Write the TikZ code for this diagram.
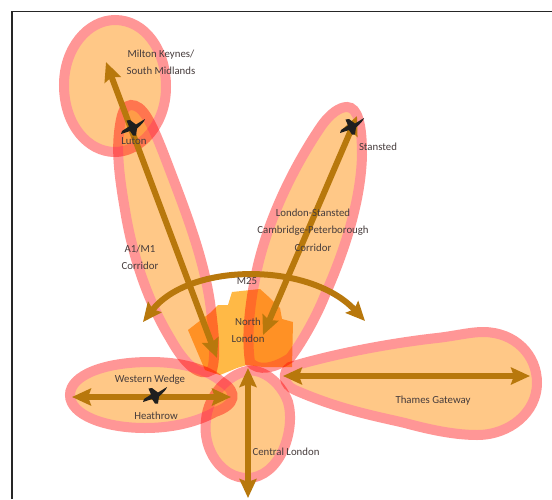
\documentclass[tikz,border=0pt]{standalone}
\usepackage{fontspec}
\setmainfont{Carlito}
\usetikzlibrary{arrows.meta}
\definecolor{lobefill}{RGB}{255,200,135}
\definecolor{lobering}{RGB}{255,150,150}
\definecolor{core}{RGB}{255,185,70}
\definecolor{roadc}{RGB}{184,120,12}
\definecolor{labelc}{RGB}{70,60,60}
\newcommand{\lobepath}[1]{%
\begin{scope}[blend mode=multiply]
\begin{scope}[transparency group]
\begin{scope}[blend mode=normal]
\path[lobe] #1;
\end{scope}
\end{scope}
\end{scope}}
\tikzset{
  x=1pt,y=-1pt,
  lobe/.style={fill=lobefill,draw=lobering,line width=10pt},
  road/.style={draw=roadc,line width=6pt,{Stealth[length=19pt,width=17pt,inset=3pt]}-{Stealth[length=19pt,width=17pt,inset=3pt]}},
  lab/.style={text=labelc,font=\fontsize{10.8pt}{17.3pt}\selectfont,align=center,inner sep=0pt},
  plane/.pic={\fill[black!88] (12,-8) -- (3,-2.5) -- (-3,-7) -- (-6.5,-6.5) -- (-4,-0.5) -- (-11,4) -- (-12,7) -- (-3,4) -- (0,8.5) -- (3,8.5) -- (4,1.5) .. controls (8,-2) and (11,-5) .. (12,-8) -- cycle;}
}
\begin{document}
\begin{tikzpicture}
\useasboundingbox (0,0) rectangle (552,499);
\fill[white] (0,0) rectangle (552,499);
\draw[black!85,line width=1.2pt] (12,499) -- (12,11.5) -- (552,11.5);
% North London core
\fill[core] (188,330) -- (210,313) -- (218,305) -- (228,305) -- (232,292) -- (260,289) -- (270,298) -- (280,308) -- (282,319) -- (293,322) -- (292,367) -- (263,367) -- (247,365) -- (237,368) -- (220,375) -- (205,370) -- cycle;
% Lobes
\lobepath{(115,20) .. controls (145,20) and (166,50) .. (166,87) .. controls (166,125) and (140,152) .. (115,152) .. controls (88,152) and (64,125) .. (64,85) .. controls (64,48) and (88,20) .. (115,20) -- cycle}
\lobepath{(131,105) .. controls (142,105) and (150,118) .. (166,160) .. controls (185,210) and (205,260) .. (211,310) .. controls (214,335) and (216,355) .. (212,370) .. controls (200,378) and (185,365) .. (170,338) .. controls (150,305) and (133,260) .. (125,210) .. controls (119,175) and (116,150) .. (120,125) .. controls (122,112) and (125,105) .. (131,105) -- cycle}
\lobepath{(347,107) .. controls (358,107) and (362,125) .. (362,155) .. controls (361,200) and (345,250) .. (325,295) .. controls (315,320) and (300,345) .. (290,358) .. controls (275,368) and (258,372) .. (250,362) .. controls (246,335) and (250,300) .. (258,265) .. controls (270,215) and (295,165) .. (320,128) .. controls (330,113) and (340,107) .. (347,107) -- cycle}
\lobepath{(290,367) .. controls (340,352) and (400,342) .. (437,338) .. controls (455,336) and (470,332) .. (483,332) .. controls (515,332) and (537,355) .. (537,383) .. controls (537,412) and (510,435) .. (477,435) .. controls (450,435) and (420,427) .. (405,423) .. controls (380,417) and (340,410) .. (295,390) .. controls (283,385) and (282,372) .. (290,367) -- cycle}
\lobepath{(247,371) .. controls (260,368) and (280,380) .. (288,402) .. controls (296,430) and (280,478) .. (247,478) .. controls (222,478) and (202,450) .. (206,420) .. controls (208,395) and (228,375) .. (247,371) -- cycle}
\lobepath{(150,362) .. controls (180,362) and (205,368) .. (222,382) .. controls (238,392) and (236,405) .. (215,412) .. controls (195,423) and (170,428) .. (145,428) .. controls (105,428) and (70,415) .. (70,395) .. controls (70,375) and (105,362) .. (150,362) -- cycle}
% Roads
\coordinate (mkN) at (106,62);
\coordinate (mkS) at (217,358);
\coordinate (stN) at (357,116);
\coordinate (stS) at (263,335);
\coordinate (wwW) at (72,397);
\coordinate (wwE) at (231,397);
\coordinate (clN) at (248,368);
\coordinate (clS) at (248,498);
\coordinate (tgW) at (283,376);
\coordinate (tgE) at (530,376);
\coordinate (mW) at (143,322);
\coordinate (mE) at (365,321);
\draw[road] (mkN) -- (mkS);
\draw[road] (stN) -- (stS);
\draw[road] (wwW) -- (wwE);
\draw[road] (clN) -- (clS);
\draw[road] (tgW) -- (tgE);
\draw[road] (mW) .. controls (190,262) and (310,262) .. (mE);
% Planes
\pic at (133,127) {plane};
\pic at (352,126) {plane};
\pic at (155,395) {plane};
% Labels
\node[lab] (mk) at (161,62) {Milton Keynes/\\South Midlands};
\node[lab] (lu) at (134,141) {Luton};
\node[lab] (st) at (378,147) {Stansted};
\node[lab] (ls) at (313,230) {London-Stansted\\Cambridge-Peterborough\\Corridor};
\node[lab] (a1) at (140,257) {A1/M1\\Corridor};
\node[lab] (m25) at (247,281) {M25};
\node[lab] (nl) at (248,330) {North\\London};
\node[lab] (ww) at (150,380) {Western Wedge};
\node[lab] (he) at (156,416) {Heathrow};
\node[lab] (cl) at (286,452) {Central London};
\node[lab] (tg) at (433,401) {Thames Gateway};
\end{tikzpicture}
\end{document}
